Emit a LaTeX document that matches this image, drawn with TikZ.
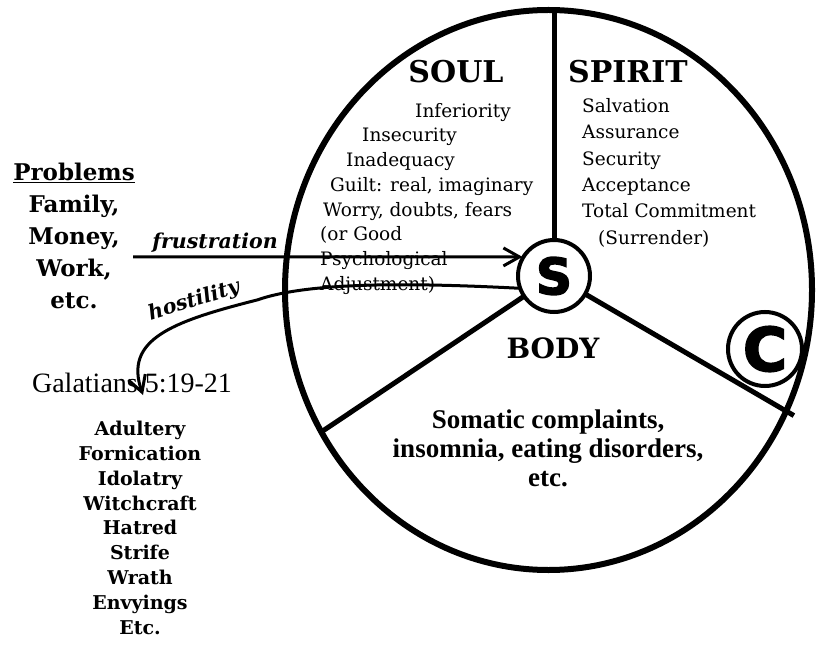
\documentclass[tikz,border=0pt]{standalone}
\usepackage{fontspec}
\setmainfont{DejaVu Serif}
\newfontfamily\timesfont{Liberation Serif}
\newfontfamily\ringfont[BoldFeatures={FakeBold=3}]{DejaVu Sans}
\usetikzlibrary{shapes,shapes.geometric,arrows.meta}
\tikzset{
  part_name/.style = {font=\bfseries\fontsize{30}{30}\selectfont, inner sep=0pt},
  part_list/.style = {font=\fontsize{18.5}{24.7}\selectfont, align=left, inner sep=0pt, anchor=north west},
  side_list/.style = {font=\bfseries\fontsize{23}{32}\selectfont, align=center, inner sep=0pt, anchor=north},
  sin_list/.style = {font=\bfseries\fontsize{19}{24.8}\selectfont, align=center, inner sep=0pt, anchor=north},
  ring/.style = {circle, draw, line width=4pt, inner sep=0pt, outer sep=0pt, fill=white},
  divider/.style = {line width=5pt},
  flow/.style = {line width=3pt, -{Straight Barb[length=16pt,width=18pt]}},
  flow_label/.style = {font=\bfseries\itshape\fontsize{20.5}{20.5}\selectfont, inner sep=0pt}
}

\begin{document}
\begin{tikzpicture}[x=1pt, y=-1pt]
\useasboundingbox (0,0) rectangle (816,652);

% the person: soul, spirit, body
\node [ellipse, draw, line width=6pt, minimum width=527pt, minimum height=560pt, inner sep=0pt, outer sep=0pt] (self) at (548.5,290) {};
\node [ring, minimum size=72pt, font=\ringfont\bfseries\fontsize{50}{50}\selectfont] (S) at (554,276) {S};
\node [ring, minimum size=74pt, font=\ringfont\bfseries\fontsize{60}{60}\selectfont] (C) at (765,349) {C};

\draw [divider] (S.north) -- (S.north |- self.north);
\draw [divider] (S.214) -- (self.212);
\draw [divider, shorten >=-9pt] (S.330) -- (self.333);

\node [part_name] (soul) at (456,72) {SOUL};
\node [part_name] (spirit) at (628,72) {SPIRIT};
\node [part_name, font=\bfseries\fontsize{28}{28}\selectfont] (body) at (553,348) {BODY};

\node [part_list] (soul_list) at (320,103) {\hspace*{95pt}Inferiority\\
  \hspace*{42pt}Insecurity\\
  \hspace*{26pt}Inadequacy\\
  \hspace*{10pt}Guilt: real, imaginary\\
  \hspace*{3pt}Worry, doubts, fears\\
  (or Good\\
  Psychological\\
  Adjustment)};
\node [part_list, font=\fontsize{18.5}{26.4}\selectfont] (spirit_list) at (582,98) {Salvation\\
  Assurance\\
  Security\\
  Acceptance\\
  Total Commitment\\
  \hspace*{16pt}(Surrender)};
\node [align=center, inner sep=0pt, anchor=north, font=\timesfont\bfseries\fontsize{27}{29}\selectfont] (body_list) at (548,410) {Somatic complaints,\\
  insomnia, eating disorders,\\
  etc.};

% outside pressures
\node [side_list] (problems) at (74,163) {\underline{Problems}\\
  Family,\\
  Money,\\
  Work,\\
  etc.};
\coordinate (frust_start) at (133,257);
\draw [flow, shorten >=1pt] (frust_start) -- (S.148);
\node [flow_label] (frust) at (215,243) {frustration};

\coordinate (host_mid) at (257,300);
\coordinate (host_end) at (143,395);
\draw [flow] (S.200) .. controls (380,281) and (300,285) .. (host_mid)
  .. controls (170,322) and (124,340) .. (host_end);
\node [flow_label, rotate=17] (host) at (194,301) {hostility};

\node [font=\timesfont\fontsize{28}{28}\selectfont, inner sep=0pt] (gal) at (132,383) {Galatians 5:19-21};
\node [sin_list] (works) at (140,421) {Adultery\\
  Fornication\\
  Idolatry\\
  Witchcraft\\
  Hatred\\
  Strife\\
  Wrath\\
  Envyings\\
  Etc.};
\end{tikzpicture}
\end{document}
